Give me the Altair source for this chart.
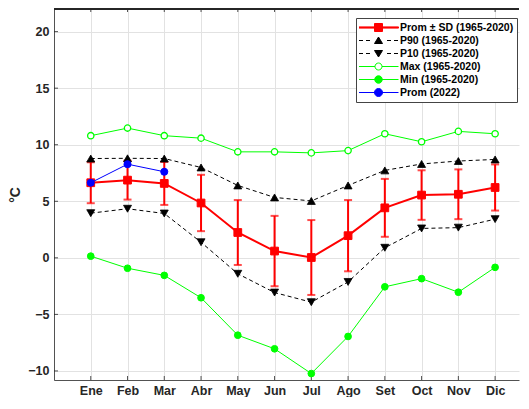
import altair as alt
import pandas as pd

months = ["Ene", "Feb", "Mar", "Abr", "May", "Jun", "Jul", "Ago", "Set", "Oct", "Nov", "Dic"]
prom = [6.64, 6.87, 6.58, 4.85, 2.24, 0.60, 0.03, 1.96, 4.42, 5.55, 5.62, 6.22]
sd = [1.81, 1.72, 1.90, 2.49, 2.87, 3.11, 3.31, 3.15, 2.56, 2.19, 2.20, 2.04]
p90 = [8.78, 8.80, 8.78, 7.99, 6.40, 5.34, 5.03, 6.40, 7.73, 8.30, 8.56, 8.70]
p10 = [3.95, 4.34, 3.92, 1.38, -1.41, -3.07, -3.92, -2.13, 0.89, 2.60, 2.67, 3.42]
vmax = [10.80, 11.47, 10.80, 10.58, 9.37, 9.37, 9.28, 9.48, 10.97, 10.26, 11.18, 10.97]
vmin = [0.15, -0.92, -1.55, -3.53, -6.84, -8.04, -10.23, -6.95, -2.56, -1.84, -3.04, -0.84]
prom2022 = [6.64, 8.28, 7.61]
y_ticks = [-10, -5, 0, 5, 10, 15, 20]

series = ["Prom \u00b1 SD (1965-2020)", "P90 (1965-2020)", "P10 (1965-2020)",
          "Max (1965-2020)", "Min (1965-2020)", "Prom (2022)"]

RED, GREEN, BLUE, BLACK = "#ff0000", "#00ff00", "#0000ff", "#000000"
AX = "#262626"
FONT = "Liberation Sans"

idx = list(range(1, 13))
df = pd.DataFrame({
    "m": idx, "month": months, "prom": prom, "sd": sd,
    "p90": p90, "p10": p10, "vmax": vmax, "vmin": vmin,
})
df["lo"] = df["prom"] - df["sd"]
df["hi"] = df["prom"] + df["sd"]
df22 = pd.DataFrame({"m": idx[:len(prom2022)], "v": prom2022})
dft = pd.DataFrame({"t": y_ticks})
dfl = pd.DataFrame({"series": series})

W, H = 465, 371
label_expr = "[" + ",".join("'%s'" % m for m in months) + "][datum.value - 1]"

xscale = alt.Scale(domain=[0, 12.65], nice=False, zero=False)
yscale = alt.Scale(domain=[-10.8, 22], nice=False, zero=False)
xaxis = alt.Axis(values=idx, labelExpr=label_expr, title=None, grid=True,
                 gridColor="#e2e2e2", tickSize=0, labelPadding=4,
                 domainColor=AX, labelFont=FONT, labelFontWeight="bold",
                 labelFontSize=12.5, labelColor=AX)
yaxis = alt.Axis(values=y_ticks, title="\u00b0C", grid=True, gridColor="#e2e2e2",
                 tickSize=0, labelPadding=5, domainColor=AX, labelFont=FONT,
                 labelFontWeight="bold", labelFontSize=12.5, labelColor=AX,
                 titleFont=FONT, titleFontWeight="bold", titleFontSize=14,
                 titleColor=AX, titlePadding=5)


def X(f):
    return alt.X(f, scale=xscale, axis=xaxis)


def Y(f):
    return alt.Y(f, scale=yscale, axis=yaxis)


base = alt.Chart(df)

# frame top line and inward ticks
top_line = base.mark_rule(color=AX, strokeWidth=0.8).encode(
    x=alt.value(0), x2=alt.value(W), y=alt.value(0))
tick_bottom = base.mark_rule(color=AX, strokeWidth=0.8).encode(
    x=X("m:Q"), y=alt.value(H), y2=alt.value(H - 4))
tick_top = base.mark_rule(color=AX, strokeWidth=0.8).encode(
    x=X("m:Q"), y=alt.value(0), y2=alt.value(3))
tick_left = alt.Chart(dft).mark_rule(color=AX, strokeWidth=0.8).encode(
    y=Y("t:Q"), x=alt.value(0), x2=alt.value(4))

# mean +- sd
err = base.mark_rule(color=RED, strokeWidth=2).encode(x=X("m:Q"), y=Y("lo:Q"), y2="hi:Q")
cap_lo = base.mark_tick(color=RED, thickness=2, size=8, orient="horizontal").encode(x=X("m:Q"), y=Y("lo:Q"))
cap_hi = base.mark_tick(color=RED, thickness=2, size=8, orient="horizontal").encode(x=X("m:Q"), y=Y("hi:Q"))
mean_line = base.mark_line(color=RED, strokeWidth=2).encode(x=X("m:Q"), y=Y("prom:Q"))
mean_pts = base.mark_point(shape="square", size=60, filled=True, fill=RED, stroke=RED,
                           strokeWidth=1, opacity=1).encode(x=X("m:Q"), y=Y("prom:Q"))

p90_line = base.mark_line(color=BLACK, strokeWidth=1, strokeDash=[4, 3]).encode(x=X("m:Q"), y=Y("p90:Q"))
p90_pts = base.mark_point(shape="triangle-up", size=64, filled=True, fill=BLACK, stroke=BLACK,
                          strokeWidth=0.8, opacity=1).encode(x=X("m:Q"), y=Y("p90:Q"))
p10_line = base.mark_line(color=BLACK, strokeWidth=1, strokeDash=[4, 3]).encode(x=X("m:Q"), y=Y("p10:Q"))
p10_pts = base.mark_point(shape="triangle-down", size=64, filled=True, fill=BLACK, stroke=BLACK,
                          strokeWidth=0.8, opacity=1).encode(x=X("m:Q"), y=Y("p10:Q"))

max_line = base.mark_line(color=GREEN, strokeWidth=1).encode(x=X("m:Q"), y=Y("vmax:Q"))
max_pts = base.mark_point(shape="circle", size=40, filled=False, fill="white", stroke=GREEN,
                          strokeWidth=1.3, opacity=1).encode(x=X("m:Q"), y=Y("vmax:Q"))
min_line = base.mark_line(color=GREEN, strokeWidth=1).encode(x=X("m:Q"), y=Y("vmin:Q"))
min_pts = base.mark_point(shape="circle", size=45, filled=True, fill=GREEN, stroke=GREEN,
                          strokeWidth=1, opacity=1).encode(x=X("m:Q"), y=Y("vmin:Q"))

b_line = alt.Chart(df22).mark_line(color=BLUE, strokeWidth=1).encode(x=X("m:Q"), y=Y("v:Q"))
b_pts = alt.Chart(df22).mark_point(shape="circle", size=50, filled=True, fill=BLUE, stroke=BLUE,
                                   strokeWidth=1, opacity=1).encode(x=X("m:Q"), y=Y("v:Q"))

# legend symbols (line + marker), drawn only inside the legend
dash = "M-3.9,0H-3.1M-2.5,0H-1.7M1.7,0H2.5M3.1,0H3.9"
shapes = [
    "M-4,-0.12H4V0.12H-4Z M-0.8,-0.8H0.8V0.8H-0.8Z",
    dash + "M0,-0.7L0.8,0.6H-0.8Z",
    dash + "M0,0.7L0.8,-0.6H-0.8Z",
    "M-4,0H-0.7M0.7,0H4M0.7,0A0.7,0.7 0 1,1 -0.7,0A0.7,0.7 0 1,1 0.7,0Z",
    "M-4,0H4M0.75,0A0.75,0.75 0 1,1 -0.75,0A0.75,0.75 0 1,1 0.75,0Z",
    "M-4,0H4M0.8,0A0.8,0.8 0 1,1 -0.8,0A0.8,0.8 0 1,1 0.8,0Z",
]
fills = [RED, BLACK, BLACK, "#ffffff", GREEN, BLUE]
strokes = [RED, BLACK, BLACK, GREEN, GREEN, BLUE]
leg = alt.Legend(title=None, orient="none", legendX=302, legendY=9,
                 symbolSize=100, symbolStrokeWidth=1, symbolOffset=14,
                 labelOffset=16, labelFont=FONT, labelFontWeight="bold",
                 labelFontSize=10.5, labelColor="#000000", strokeColor="#444444",
                 fillColor="#ffffff", padding=3, rowPadding=0, clipHeight=13)
legend_layer = alt.Chart(dfl).mark_point(filled=True, opacity=1, clip=True).encode(
    x=alt.X("datum_x:Q", scale=xscale, axis=xaxis),
    y=alt.Y("datum_y:Q", scale=yscale, axis=yaxis),
    shape=alt.Shape("series:N", scale=alt.Scale(domain=series, range=shapes), legend=leg),
    fill=alt.Fill("series:N", scale=alt.Scale(domain=series, range=fills), legend=leg),
    stroke=alt.Stroke("series:N", scale=alt.Scale(domain=series, range=strokes), legend=leg),
).transform_calculate(datum_x="-100", datum_y="-100")

chart = alt.layer(
    top_line, tick_bottom, tick_top, tick_left,
    err, cap_lo, cap_hi, mean_line, mean_pts,
    p90_line, p90_pts, p10_line, p10_pts,
    max_line, max_pts, min_line, min_pts,
    b_line, b_pts, legend_layer,
).properties(
    width=W, height=H,
    padding={"left": 0, "top": 0, "right": 0, "bottom": 0},
).configure_view(stroke=None).configure_axis(domainWidth=0.8)

chart.save("out.html", embed_options={"renderer": "svg", "actions": False})
